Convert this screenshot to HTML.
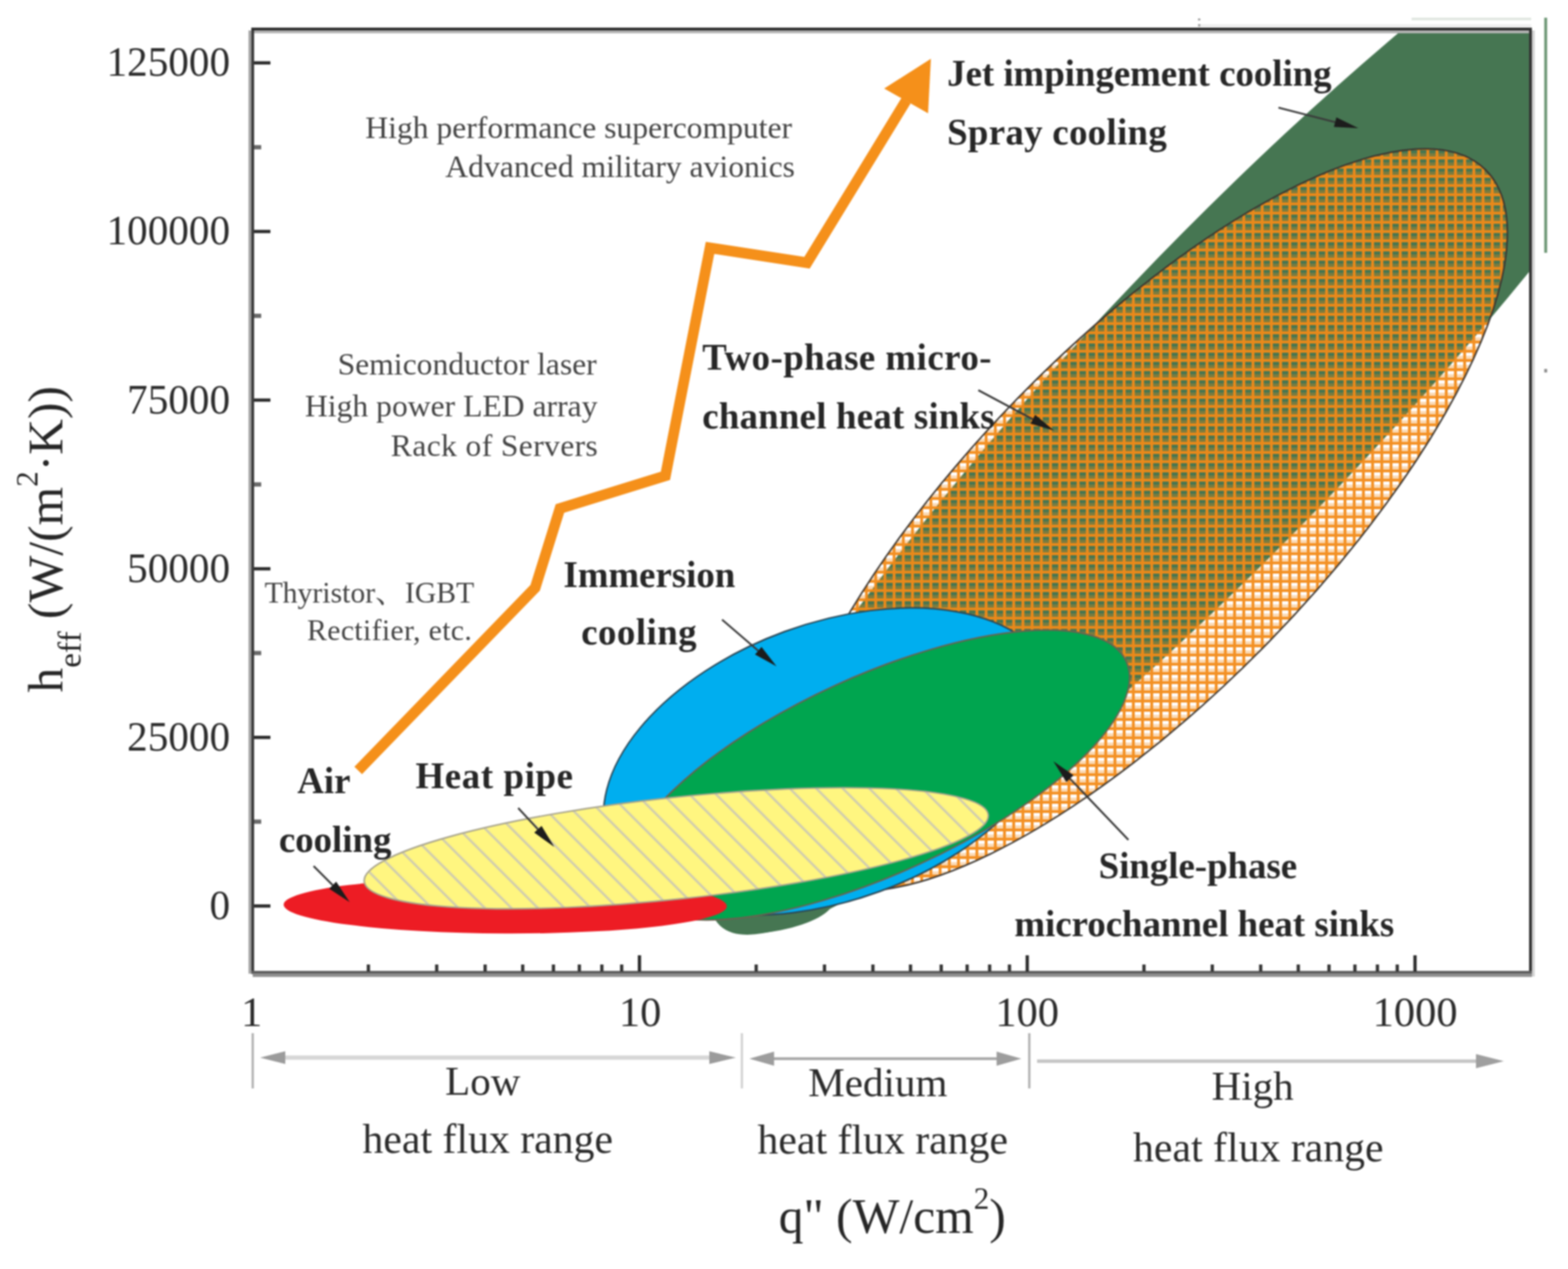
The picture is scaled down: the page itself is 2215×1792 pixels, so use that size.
<!DOCTYPE html>
<html><head><meta charset="utf-8"><title>Heat flux vs heat transfer coefficient</title>
<style>
html,body{margin:0;padding:0;background:#fff;}
svg{display:block;filter:blur(1.3px);}
.t{font-family:"Liberation Serif","Noto Serif CJK SC",serif;}
</style></head><body>
<svg width="2215" height="1792" viewBox="0 0 2215 1792">
<defs>
<pattern id="xh" patternUnits="userSpaceOnUse" width="13" height="13">
<rect x="0" y="0" width="4" height="13" fill="#f28a17" fill-opacity="0.95"/>
<rect x="4" y="0" width="9" height="4" fill="#f28a17" fill-opacity="0.95"/>
<rect x="4" y="8.5" width="9" height="4.5" fill="#f28a17" fill-opacity="0.32"/>
</pattern>
<pattern id="hh" patternUnits="userSpaceOnUse" width="26.5" height="26.5" patternTransform="rotate(-45)">
<rect x="0" y="0" width="26.5" height="26.5" fill="#fff680"/>
<rect x="0" y="0" width="3.2" height="26.5" fill="#cfcbb0"/>
</pattern>
<clipPath id="plot"><rect x="357" y="43" width="1803" height="1329"/></clipPath>
</defs>
<rect width="2215" height="1792" fill="#fff"/>

<g clip-path="url(#plot)">
<path d="M2475.09,-218.95 A1055.3,204 -46.3 1 1 1016.91,1306.95 A1055.3,204 -46.3 1 1 2475.09,-218.95 Z" fill="#467652"/>
<path d="M1175.62,1273.97 A78.9,24.4 -11.5 1 1 1020.98,1305.43 A78.9,24.4 -11.5 1 1 1175.62,1273.97 Z" fill="#467652"/>
<path d="M1792.15,906.68 A247.1,691.2 44.3 1 1 1438.45,561.52 A247.1,691.2 44.3 1 1 1792.15,906.68 Z" fill="url(#xh)" stroke="#3a3530" stroke-width="2.2"/>
<path d="M1242.65,1258.90 A195.4,336.4 69.9 1 1 1108.35,891.90 A195.4,336.4 69.9 1 1 1242.65,1258.90 Z" fill="#00aeef" stroke="#2b4756" stroke-width="2.2"/>
<path d="M1590.95,933.87 A387.1,139.5 -24.5 1 1 886.45,1254.93 A387.1,139.5 -24.5 1 1 1590.95,933.87 Z" fill="#00a54f" stroke="#6b6250" stroke-width="2.2"/>
<path d="M1026.70,1279.69 A313,39.6 0.2 1 1 400.70,1277.51 A313,39.6 0.2 1 1 1026.70,1279.69 Z" fill="#ed1c24"/>
<path d="M1396.09,1150.69 A443.3,71.8 -6.1 1 1 514.51,1244.91 A443.3,71.8 -6.1 1 1 1396.09,1150.69 Z" fill="url(#hh)" stroke="#a7a38c" stroke-width="2.2"/>
</g>
<polyline points="506,1088 756,830 791,718 940,672 1003,350 1140,371 1280,142" fill="none" stroke="#f5901a" stroke-width="15" stroke-linejoin="miter" stroke-miterlimit="10"/>
<polygon points="1315,83 1249,125 1311,160" fill="#f5901a"/>
<rect x="351" y="43" width="4" height="1332" fill="#a6a6a6"/>
<rect x="355" y="39" width="4" height="1336" fill="#3d3d3d"/>
<rect x="355" y="39" width="1809" height="4" fill="#2e2e2e"/>
<rect x="359" y="43" width="1801" height="4" fill="#b4b4b4"/>
<rect x="2160" y="39" width="4" height="1336" fill="#333"/>
<rect x="2164" y="43" width="4" height="1336" fill="#d2d2d2"/>
<rect x="355" y="1371" width="1809" height="4.5" fill="#5e5e5e"/>
<rect x="357" y="1375.5" width="1807" height="4" fill="#8c8c8c"/>
<rect x="359" y="1277.1" width="23" height="4.6" fill="#2a2a2a"/>
<rect x="359" y="1157.3" width="10" height="6" fill="#6a6a6a"/>
<rect x="359" y="1039.0" width="23" height="4.6" fill="#2a2a2a"/>
<rect x="359" y="919.2" width="10" height="6" fill="#6a6a6a"/>
<rect x="359" y="800.9" width="23" height="4.6" fill="#2a2a2a"/>
<rect x="359" y="681.1" width="10" height="6" fill="#6a6a6a"/>
<rect x="359" y="562.7" width="23" height="4.6" fill="#2a2a2a"/>
<rect x="359" y="443.0" width="10" height="6" fill="#6a6a6a"/>
<rect x="359" y="324.6" width="23" height="4.6" fill="#2a2a2a"/>
<rect x="359" y="204.9" width="10" height="6" fill="#6a6a6a"/>
<rect x="359" y="86.5" width="23" height="4.6" fill="#2a2a2a"/>
<rect x="518.1" y="1362" width="4.6" height="10" fill="#333"/>
<rect x="614.6" y="1362" width="4.6" height="10" fill="#333"/>
<rect x="683.0" y="1362" width="4.6" height="10" fill="#333"/>
<rect x="736.1" y="1362" width="4.6" height="10" fill="#333"/>
<rect x="779.5" y="1362" width="4.6" height="10" fill="#333"/>
<rect x="816.1" y="1362" width="4.6" height="10" fill="#333"/>
<rect x="847.9" y="1362" width="4.6" height="10" fill="#333"/>
<rect x="875.9" y="1362" width="4.6" height="10" fill="#333"/>
<rect x="901.0" y="1349" width="4.6" height="23" fill="#2a2a2a"/>
<rect x="1065.9" y="1362" width="4.6" height="10" fill="#333"/>
<rect x="1162.4" y="1362" width="4.6" height="10" fill="#333"/>
<rect x="1230.8" y="1362" width="4.6" height="10" fill="#333"/>
<rect x="1283.9" y="1362" width="4.6" height="10" fill="#333"/>
<rect x="1327.3" y="1362" width="4.6" height="10" fill="#333"/>
<rect x="1363.9" y="1362" width="4.6" height="10" fill="#333"/>
<rect x="1395.7" y="1362" width="4.6" height="10" fill="#333"/>
<rect x="1423.7" y="1362" width="4.6" height="10" fill="#333"/>
<rect x="1448.8" y="1349" width="4.6" height="23" fill="#2a2a2a"/>
<rect x="1613.7" y="1362" width="4.6" height="10" fill="#333"/>
<rect x="1710.2" y="1362" width="4.6" height="10" fill="#333"/>
<rect x="1778.6" y="1362" width="4.6" height="10" fill="#333"/>
<rect x="1831.7" y="1362" width="4.6" height="10" fill="#333"/>
<rect x="1875.1" y="1362" width="4.6" height="10" fill="#333"/>
<rect x="1911.7" y="1362" width="4.6" height="10" fill="#333"/>
<rect x="1943.5" y="1362" width="4.6" height="10" fill="#333"/>
<rect x="1971.5" y="1362" width="4.6" height="10" fill="#333"/>
<rect x="1996.6" y="1349" width="4.6" height="23" fill="#2a2a2a"/>
<g class="t" fill="#2b2b2b" font-size="60" text-anchor="end">
<text transform="translate(325,1297.9) scale(0.97,1)">0</text>
<text transform="translate(325,1059.8) scale(0.97,1)">25000</text>
<text transform="translate(325,821.7) scale(0.97,1)">50000</text>
<text transform="translate(325,583.5) scale(0.97,1)">75000</text>
<text transform="translate(325,345.4) scale(0.97,1)">100000</text>
<text transform="translate(325,107.3) scale(0.97,1)">125000</text>
</g>
<g class="t" fill="#2b2b2b" font-size="60" text-anchor="middle">
<text x="355.5" y="1449">1</text>
<text x="904.3" y="1449">10</text>
<text x="1451.1" y="1449">100</text>
<text x="1998.9" y="1449">1000</text>
</g>
<text class="t" fill="#262626" font-size="70" transform="translate(88,978) rotate(-90)">h<tspan font-size="47" dy="26">eff</tspan><tspan dy="-26"> (W/(m</tspan><tspan font-size="44" dy="-35">2</tspan><tspan dy="35">·K))</tspan></text>
<text class="t" fill="#262626" font-size="70" x="1100" y="1741">q" (W/cm<tspan font-size="44" dy="-34">2</tspan><tspan dy="34">)</tspan></text>
<g>
<rect x="355.5" y="1459" width="3" height="78" fill="#ababab"/>
<rect x="1046.5" y="1459" width="3" height="78" fill="#cfcfcf"/>
<rect x="1452.5" y="1459" width="3" height="78" fill="#ababab"/>
<rect x="380" y="1490.5" width="640" height="6" fill="#d6d6d6"/>
<polygon points="367.5,1493.5 403,1484.5 403,1502.5" fill="#9b9b9b"/>
<polygon points="1039.5,1493.5 1002,1484.5 1002,1502.5" fill="#9b9b9b"/>
<rect x="1070" y="1493" width="360" height="4" fill="#a9a9a9"/>
<polygon points="1058.5,1495 1093.5,1485 1093.5,1505" fill="#9d9d9d"/>
<polygon points="1442.8,1495 1407.8,1485 1407.8,1505" fill="#9d9d9d"/>
<rect x="1465" y="1496" width="630" height="5" fill="#c6c6c6"/>
<polygon points="2124.4,1498.5 2085,1488.5 2085,1508.5" fill="#9f9f9f"/>
</g>
<g class="t" fill="#2b2b2b" font-size="58" text-anchor="middle">
<text x="682" y="1546">Low</text>
<text x="689" y="1628" font-size="59">heat flux range</text>
<text x="1240" y="1548">Medium</text>
<text x="1247" y="1628.5" font-size="59">heat flux range</text>
<text x="1769.5" y="1553">High</text>
<text x="1777.5" y="1640" font-size="59">heat flux range</text>
</g>
<g class="t" fill="#444" font-size="44.7" text-anchor="end">
<text x="1119" y="195.4">High performance supercomputer</text>
<text x="1123" y="250">Advanced military avionics</text>
<text x="843" y="529.3">Semiconductor laser</text>
<text x="844" y="588.4">High power LED array</text>
<text x="845" y="644.3" letter-spacing="0.5">Rack of Servers</text>
</g>
<g class="t" fill="#444" font-size="42" text-anchor="end">
<text x="670" y="850.7">Thyristor、IGBT</text>
<text x="667" y="903.8" letter-spacing="0.5">Rectifier, etc.</text>
</g>
<g class="t" fill="#262626" font-size="52" font-weight="bold">
<text x="1338" y="121.4">Jet impingement cooling</text>
<text x="1338" y="203.8" letter-spacing="0.45">Spray cooling</text>
<text x="992" y="522.1" letter-spacing="0.7">Two-phase micro-</text>
<text x="992" y="604.5" letter-spacing="0.33">channel heat sinks</text>
<text x="796" y="828.6">Immersion</text>
<text x="821" y="910.2" letter-spacing="0.7">cooling</text>
<text x="420" y="1120.3">Air</text>
<text x="394" y="1203.2">cooling</text>
<text x="587" y="1113" letter-spacing="0.9">Heat pipe</text>
<text x="1552" y="1240">Single-phase</text>
<text x="1433" y="1321.9">microchannel heat sinks</text>
</g>
<line x1="1806" y1="152" x2="1886.1" y2="172.5" stroke="#3a3a3a" stroke-width="2.6"/><polygon points="1919,181 1884.3,179.3 1887.8,165.8" fill="#1c1c1c"/>
<line x1="1382" y1="551" x2="1459.0" y2="592.0" stroke="#3a3a3a" stroke-width="2.6"/><polygon points="1489,608 1455.7,598.2 1462.3,585.8" fill="#1c1c1c"/>
<line x1="1020" y1="875" x2="1071.2" y2="918.9" stroke="#3a3a3a" stroke-width="2.6"/><polygon points="1097,941 1066.6,924.2 1075.7,913.6" fill="#1c1c1c"/>
<line x1="732" y1="1141" x2="759.9" y2="1171.1" stroke="#3a3a3a" stroke-width="2.6"/><polygon points="783,1196 754.7,1175.8 765.0,1166.3" fill="#1c1c1c"/>
<line x1="443" y1="1223" x2="470.0" y2="1250.0" stroke="#3a3a3a" stroke-width="2.6"/><polygon points="494,1274 465.0,1254.9 474.9,1245.0" fill="#1c1c1c"/>
<line x1="1594" y1="1186" x2="1511.5" y2="1099.6" stroke="#3a3a3a" stroke-width="2.6"/><polygon points="1488,1075 1516.5,1094.8 1506.4,1104.4" fill="#1c1c1c"/>
<rect x="1994" y="25" width="169" height="3.5" fill="#dfe6df"/>
<rect x="1695" y="34.5" width="468" height="3" fill="#ededed"/>
<rect x="1692.5" y="26" width="3" height="3" fill="#9a9a9a"/>
<rect x="1692.5" y="34" width="3" height="3.5" fill="#9a9a9a"/>
<rect x="2181.5" y="25" width="4" height="332" fill="#6a9472"/>
<rect x="2181.5" y="521" width="4" height="5" fill="#8a8a8a"/>
</svg></body></html>
